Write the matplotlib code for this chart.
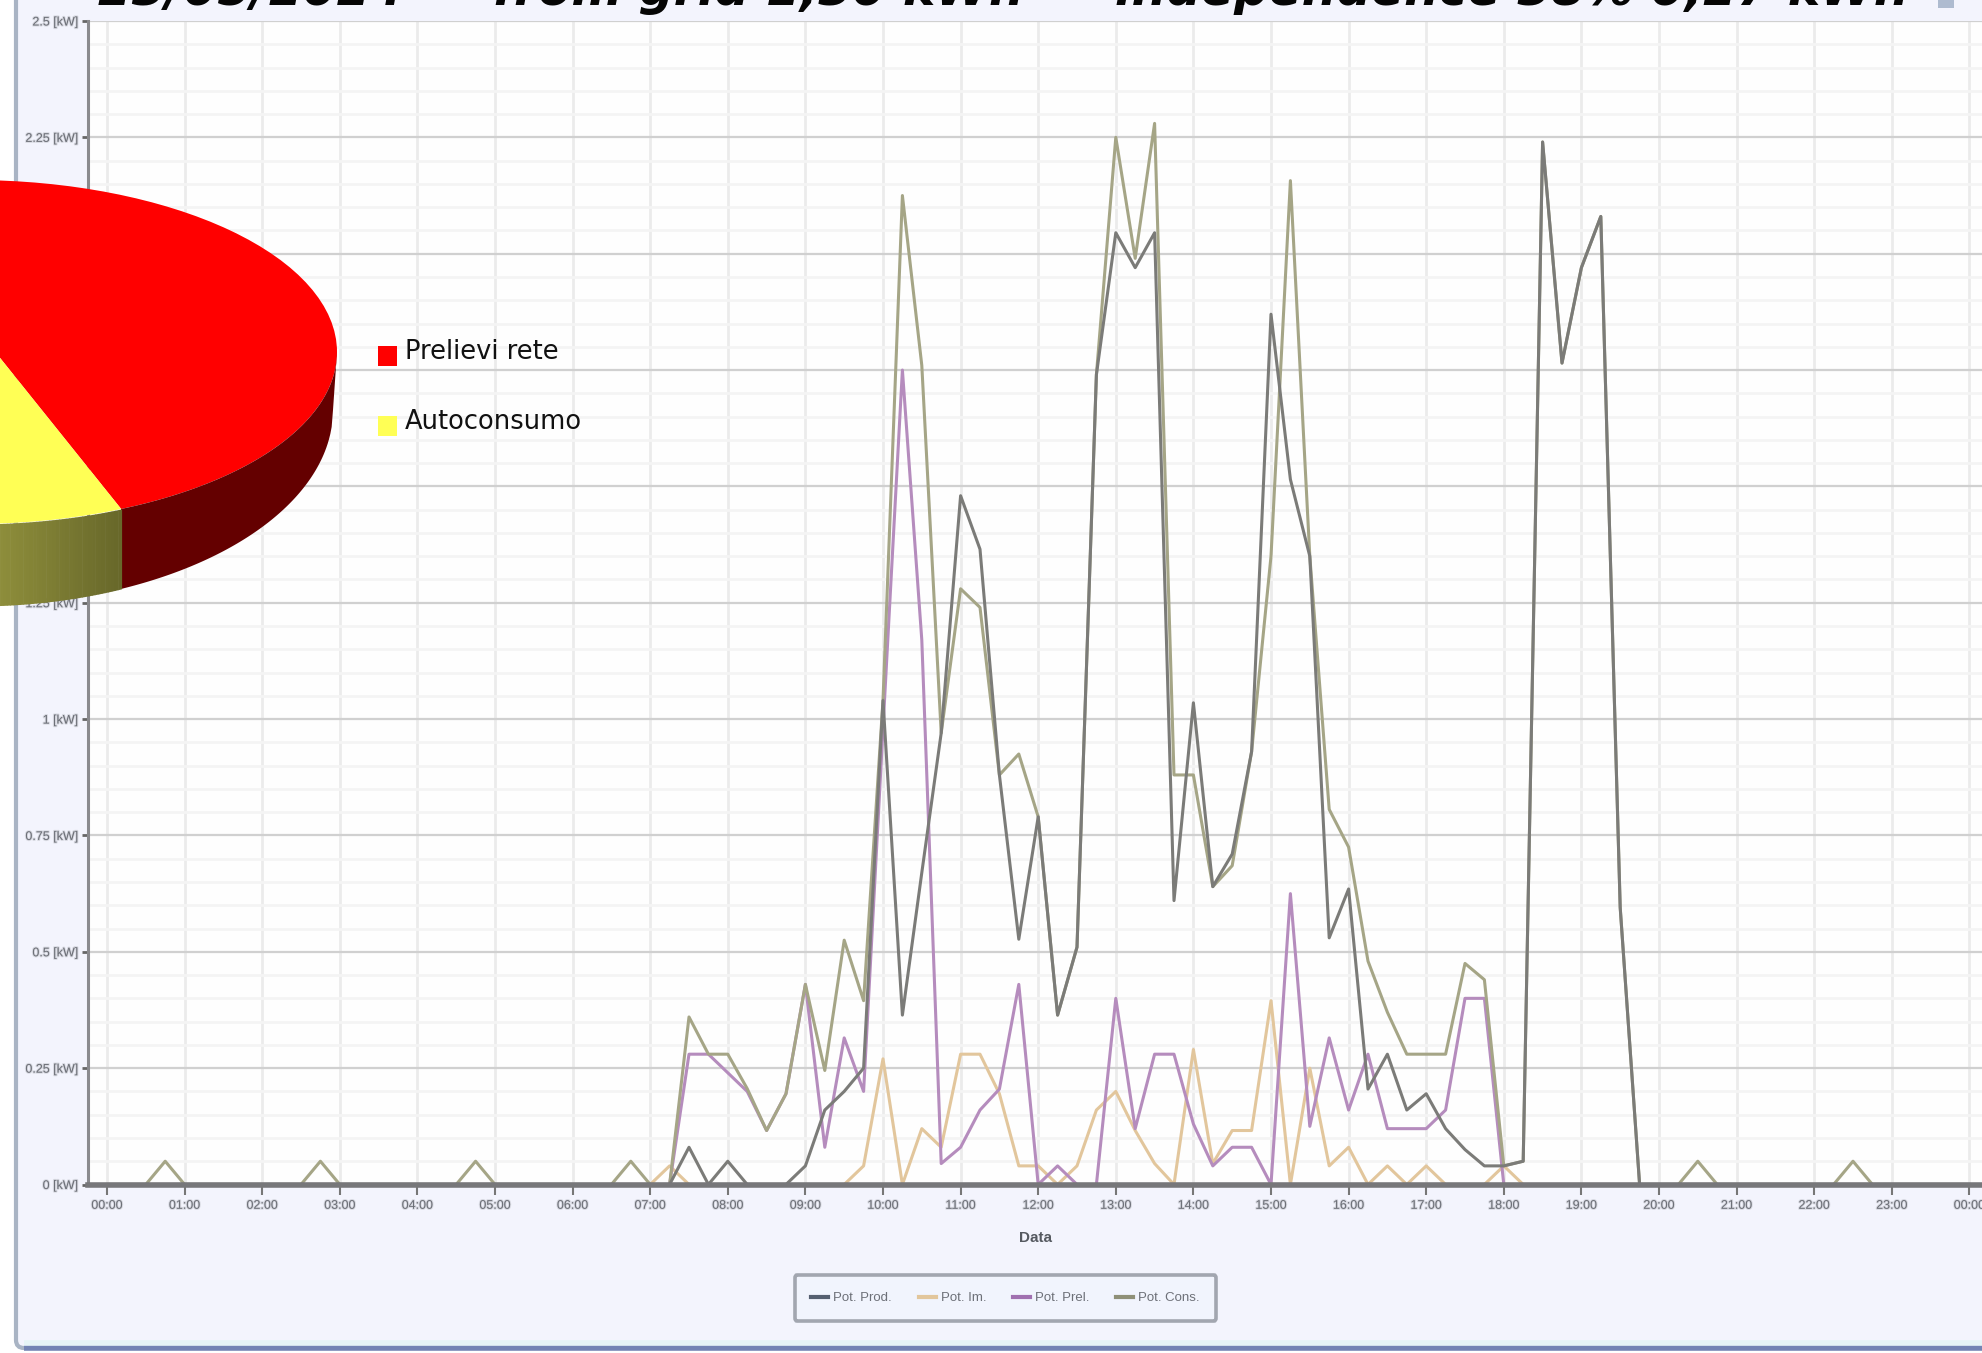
import numpy as np
import matplotlib
matplotlib.use("Agg")
import matplotlib.pyplot as plt
from matplotlib.patches import FancyBboxPatch, Rectangle, Circle
from matplotlib.lines import Line2D
from matplotlib.ticker import MultipleLocator
import matplotlib.patheffects as pe

# ---------- data: one row per hour, quarter-hour samples (kW) ----------
pot_prod = [0,0,0,0, 0,0,0,0, 0,0,0,0, 0,0,0,0, 0,0,0,0, 0,0,0,0, 0,0,0,0,
            0,0,.08,0, .05,0,0,0, .04,.16,.2,.25, 1.04,.364,.67,.97,
            1.48,1.365,.88,.527, .79,.364,.51,1.74, 2.045,1.97,2.045,.61,
            1.035,.64,.71,.93, 1.87,1.515,1.35,.53, .635,.205,.28,.16,
            .195,.12,.075,.04, .04,.05,2.24,1.765, 1.97,2.08,.595,0,
            0,0,0,0, 0,0,0,0, 0,0,0,0, 0,0,0,0, 0]
pot_im = [0,0,0,0, 0,0,0,0, 0,0,0,0, 0,0,0,0, 0,0,0,0, 0,0,0,0, 0,0,0,0,
          0,.04,0,0, 0,0,0,0, 0,0,0,.04, .27,0,.12,.08,
          .28,.28,.195,.04, .04,0,.04,.16, .2,.116,.045,0,
          .29,.045,.116,.116, .395,0,.25,.04, .08,0,.04,0,
          .04,0,0,0, .04,0,0,0, 0,0,0,0,
          0,0,0,0, 0,0,0,0, 0,0,0,0, 0,0,0,0, 0]
pot_prel = [0,0,0,0, 0,0,0,0, 0,0,0,0, 0,0,0,0, 0,0,0,0, 0,0,0,0, 0,0,0,0,
            0,0,.28,.28, .24,.2,.116,.195, .43,.08,.315,.2, .98,1.75,1.17,.045,
            .08,.16,.205,.43, 0,.04,0,0, .40,.12,.28,.28,
            .13,.04,.08,.08, 0,.625,.125,.315, .16,.28,.12,.12,
            .12,.16,.40,.40, 0,0,0,0, 0,0,0,0,
            0,0,0,0, 0,0,0,0, 0,0,0,0, 0,0,0,0, 0]
pot_cons = [0,0,0,.05, 0,0,0,0, 0,0,0,.05, 0,0,0,0, 0,0,0,.05, 0,0,0,0, 0,0,0,.05,
            0,0,.36,.28, .28,.206,.116,.195, .43,.245,.525,.395, 1.04,2.125,1.76,.97,
            1.28,1.24,.88,.925, .79,.364,.51,1.74, 2.25,1.99,2.28,.88,
            .88,.64,.685,.93, 1.35,2.157,1.35,.806, .725,.48,.37,.28,
            .28,.28,.475,.44, .04,.05,2.24,1.765, 1.97,2.08,.595,0,
            0,0,.05,0, 0,0,0,0, 0,0,.05,0, 0,0,0,0, 0]
series_names = ["Pot. Prod.", "Pot. Im.", "Pot. Prel.", "Pot. Cons."]
hour_labels = [f"{h % 24:02d}:00" for h in range(25)]
y_ticks = [0, .25, .5, .75, 1, 1.25, 1.5, 1.75, 2, 2.25, 2.5]
y_labels = ["0 [kW]", "0.25 [kW]", "0.5 [kW]", "0.75 [kW]", "1 [kW]", "1.25 [kW]",
            "1.5 [kW]", "1.75 [kW]", "2 [kW]", "2.25 [kW]", "2.5 [kW]"]
pie_names = ["Prelievi rete", "Autoconsumo"]
pie_shares = [62, 38]
title_parts = ["23/05/2024 -", "from grid 1,30 kWh", "-", "independence 38% 0,27 kWh"]

x_label = "Data"

W, H = 1982, 1353
NARROW = "Liberation Sans"
fig = plt.figure(figsize=(W / 100, H / 100), dpi=100, facecolor="white")

# ---------- window panel and title ----------
bg = fig.add_axes([0, 0, 1, 1], zorder=0)
bg.set_xlim(0, W); bg.set_ylim(H, 0); bg.axis("off")
bg.add_patch(FancyBboxPatch((16, -60), W + 100, 1408, boxstyle="round,pad=0,rounding_size=8",
                            fc="#f3f4fd", ec="#a9b4c4", lw=3))
bg.plot([24, W], [1348, 1348], color="#7484b4", lw=4, solid_capstyle="butt")
bg.plot([24, W], [1343, 1343], color="#e6f4f6", lw=4, solid_capstyle="butt")
for part, px in zip(title_parts, [98, 493, 1053, 1115]):
    bg.text(px, 5, part, fontsize=35, fontweight="bold", style="italic",
            family="DejaVu Sans", color="#050505", va="baseline", ha="left")
bg.add_patch(Rectangle((1938, -2), 16, 10, fc="#aebbd0", ec="none"))

# ---------- main chart ----------
left, right, top, bottom = 88, W, 21, 1184.5
ax = fig.add_axes([left / W, 1 - bottom / H, (right - left) / W, (bottom - top) / H], zorder=1)
ax.set_facecolor("#fefefe")
ax.set_xlim((left - 107) / 77.6, (right - 107) / 77.6)
ax.set_ylim(0, 2.5)
hours = np.arange(len(pot_prod)) / 4

ax.set_xticks(range(25))
ax.set_xticklabels(hour_labels, fontsize=9, family=NARROW, color="#6d7078")
ax.set_yticks(y_ticks)
ax.set_yticklabels(y_labels, fontsize=9, family=NARROW, color="#6d7078")
ax.yaxis.set_minor_locator(MultipleLocator(.05))
ax.grid(True, which="major", axis="y", color="#d0d0d0", lw=1.6)
ax.grid(True, which="minor", axis="y", color="#f4f4f4", lw=2)
ax.grid(True, which="major", axis="x", color="#ebebeb", lw=2)
ax.tick_params(axis="x", which="major", length=7, width=1.5, color="#777777", pad=4)
ax.tick_params(axis="y", which="major", length=4, width=2, color="#666666", pad=3)
ax.tick_params(axis="both", which="minor", length=0)
ax.set_axisbelow(True)
for s in ("top", "right"):
    ax.spines[s].set_visible(False)
ax.spines["left"].set_color("#8a8a8e"); ax.spines["left"].set_linewidth(2.2)
ax.spines["bottom"].set_color("#77777a"); ax.spines["bottom"].set_linewidth(4)
ax.spines["bottom"].set_zorder(5)
for lab in ax.get_xticklabels() + ax.get_yticklabels():
    lab.set_path_effects([pe.withStroke(linewidth=1.5, foreground="#b9bbc2", alpha=.45)])

c_prod, c_im, c_prel, c_cons = "#7b7b78", "#e2c69c", "#b58cbd", "#a5a586"
lw = 2.2
ax.plot(hours, pot_im, color=c_im, lw=lw, clip_on=False, zorder=3)
ax.plot(hours, pot_prel, color=c_prel, lw=lw, clip_on=False, zorder=3.1)
ax.plot(hours, pot_cons, color=c_cons, lw=lw, clip_on=False, zorder=3.2)
ax.plot(hours, pot_prod, color=c_prod, lw=lw, clip_on=False, zorder=3.3)

bg.text(1036, 1238, x_label, fontsize=11, fontweight="bold", family=NARROW,
        color="#555960", ha="center", va="center", zorder=5)

handles = [Line2D([], [], color=c, lw=3) for c in ("#555f70", c_im, "#a070b0", "#8f9078")]
leg = ax.legend(handles, series_names, ncol=4, loc="center",
                bbox_to_anchor=(1005.5 / W, 1 - 1298 / H), bbox_transform=fig.transFigure,
                prop={"family": NARROW, "size": 9.5}, labelcolor="#6d7078", fancybox=True,
                facecolor="#f1f4fd", edgecolor="#a2a6b0", framealpha=1,
                handlelength=1.3, handletextpad=.4, columnspacing=2.0, borderpad=1.25, borderaxespad=0)
leg.get_frame().set_linewidth(2.6)
leg.set_clip_on(False)

# ---------- 3-D style pie in front ----------
cx, cy, a, b = -28, 352, 365, 172
cx2, cy2, a2, b2 = -25, 410, 358, 196
pbot = 612
pie_ax = fig.add_axes([(cx - a) / W, 1 - pbot / H, 2 * a / W, (pbot - (cy - b)) / H], zorder=3)
pie_ax.patch.set_alpha(0)
wedges, _ = pie_ax.pie(pie_shares, colors=["#ff0000", "#ffff55"], startangle=-69.3,
                       counterclock=True, center=(0, .169), radius=1.6,
                       wedgeprops={"linewidth": 0})
pie_ax.set_aspect("auto")
pie_ax.set_xlim(-1, 1)
pie_ax.set_ylim((cy - pbot) / b, 1)
pie_ax.axis("off")
clip = Circle((0, 0), 1, transform=pie_ax.transData)
for w in wedges:
    w.set_clip_on(True)
    w.set_clip_path(clip)

def to_u(x): return (np.asarray(x, float) - cx) / a
def to_v(y): return (cy - np.asarray(y, float)) / b
def top_arc(x): return cy + b * np.sqrt(np.clip(1 - ((x - cx) / a) ** 2, 0, 1))
def bot_arc(x): return cy2 + b2 * np.sqrt(np.clip(1 - ((x - cx2) / a2) ** 2, 0, 1))

split = 121
xt = np.linspace(split, cx + a, 160)
xb = np.linspace(cx2 + a2, split, 160)
pie_ax.fill(np.r_[to_u(xt), to_u(xb)], np.r_[to_v(top_arc(xt)), to_v(bot_arc(xb))],
            color="#640000", lw=0)
edges = np.linspace(-10, split, 41)
c0, c1 = np.array([0x90, 0x90, 0x3c]) / 255, np.array([0x68, 0x68, 0x2a]) / 255
for i in range(40):
    xs = np.linspace(edges[i], edges[i + 1] + .6, 4)
    t = i / 39
    pie_ax.fill_between(to_u(xs), to_v(bot_arc(xs)), to_v(top_arc(xs)),
                        color=c0 * (1 - t) + c1 * t, lw=0)

over = fig.add_axes([0, 0, 1, 1], zorder=4)
over.set_xlim(0, W); over.set_ylim(H, 0); over.axis("off"); over.patch.set_alpha(0)
for name, col, ys in zip(pie_names, ["#ff0000", "#ffff55"], [346, 416]):
    over.add_patch(Rectangle((377.5, ys), 19, 19.5, fc=col, ec="none"))
    over.text(405, ys + 6, name, fontsize=18.5, family="DejaVu Sans", color="#111111",
              va="center", ha="left")

fig.savefig("out.png", dpi=100, facecolor="white")
